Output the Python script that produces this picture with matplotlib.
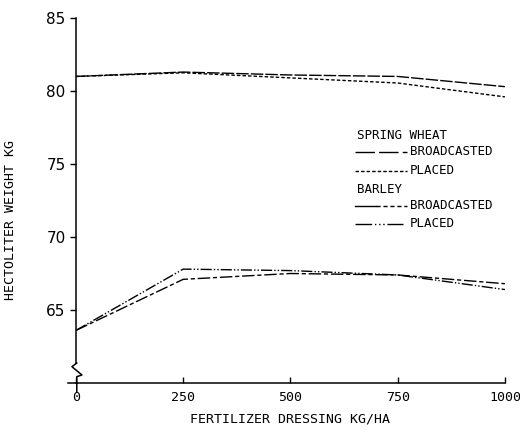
import matplotlib
matplotlib.use("Agg")
import matplotlib.pyplot as plt

# Daten
dressing = [0, 250, 500, 750, 1000]
wheat_broadcasted = [81.0, 81.3, 81.1, 81.0, 80.3]
wheat_placed = [81.0, 81.25, 80.9, 80.55, 79.6]
barley_broadcasted = [63.6, 67.1, 67.5, 67.4, 66.8]
barley_placed = [63.6, 67.8, 67.7, 67.4, 66.4]

x_ticks = [0, 250, 500, 750, 1000]
y_ticks = [65, 70, 75, 80, 85]

mono = "DejaVu Sans Mono"
lw = 1.0

fig = plt.figure(figsize=(5.2, 4.36), dpi=100)
ax = fig.add_axes([0.146, 0.1216, 0.825, 0.837])

# linienstile
st_wb = dict(dashes=(9, 1.5))
st_wp = dict(dashes=(2.5, 1.5))
st_bb = dict(dashes=(9, 2, 3, 2))
st_bp = dict(dashes=(8, 1.5, 1, 1.5, 1, 1.5))

ax.plot(dressing, wheat_broadcasted, color="black", lw=lw, **st_wb)
ax.plot(dressing, wheat_placed, color="black", lw=lw, **st_wp)
ax.plot(dressing, barley_broadcasted, color="black", lw=lw, **st_bb)
ax.plot(dressing, barley_placed, color="black", lw=lw, **st_bp)

ax.set_xlim(0, 1000)
ax.set_ylim(60, 85)
ax.spines["top"].set_visible(False)
ax.spines["right"].set_visible(False)
ax.spines["left"].set_bounds(61.4, 85)
ax.spines["left"].set_linewidth(1.1)
ax.spines["bottom"].set_linewidth(1.1)

ax.set_xticks(x_ticks)
ax.set_xticklabels([str(v) for v in x_ticks], family=mono, fontsize=9.5)
ax.set_yticks(y_ticks)
ax.set_yticklabels([str(v) for v in y_ticks], fontsize=11)
ax.tick_params(axis="x", direction="in", length=4, width=1, pad=6)
ax.tick_params(axis="y", direction="out", length=4.5, width=1, pad=3)

ax.set_xlabel("FERTILIZER DRESSING KG/HA", family=mono, fontsize=9.5, labelpad=6)
ax.set_ylabel("HECTOLITER WEIGHT KG", family=mono, fontsize=9.5)
ax.yaxis.set_label_coords(-0.137, 0.447)

# achsenbruch
bx = [0.002, -0.0093, 0.014, 0.002, 0.002]
by = [0.0548, 0.0447, 0.0219, 0.0173, -0.0247]
ax.plot(bx, by, color="black", lw=1.1, transform=ax.transAxes, clip_on=False)
ax.plot([-0.0186, 0.002], [0, 0], color="black", lw=1.1,
        transform=ax.transAxes, clip_on=False)

# legende
tx = 0.779
lx0, lx1 = 0.650, 0.772
fs = 9
ax.text(0.655, 0.679, "SPRING WHEAT", family=mono, fontsize=fs,
        transform=ax.transAxes, va="center")
ax.plot([lx0, lx1], [0.633, 0.633], color="black", lw=lw,
        transform=ax.transAxes, dashes=(14, 3))
ax.text(tx, 0.633, "BROADCASTED", family=mono, fontsize=fs,
        transform=ax.transAxes, va="center")
ax.plot([lx0, lx1], [0.581, 0.581], color="black", lw=lw,
        transform=ax.transAxes, **st_wp)
ax.text(tx, 0.581, "PLACED", family=mono, fontsize=fs,
        transform=ax.transAxes, va="center")
ax.text(0.655, 0.529, "BARLEY", family=mono, fontsize=fs,
        transform=ax.transAxes, va="center")
ax.plot([lx0, 0.70], [0.485, 0.485], color="black", lw=lw,
        transform=ax.transAxes)
ax.plot([0.70, lx1], [0.485, 0.485], color="black", lw=lw,
        transform=ax.transAxes, dashes=(3, 2))
ax.text(tx, 0.485, "BROADCASTED", family=mono, fontsize=fs,
        transform=ax.transAxes, va="center")
ax.plot([lx0, lx1 - 0.01], [0.436, 0.436], color="black", lw=lw,
        transform=ax.transAxes, dashes=(12, 2, 1, 2, 1, 2, 1, 2))
ax.text(tx, 0.436, "PLACED", family=mono, fontsize=fs,
        transform=ax.transAxes, va="center")

fig.savefig("out.png", dpi=100)
